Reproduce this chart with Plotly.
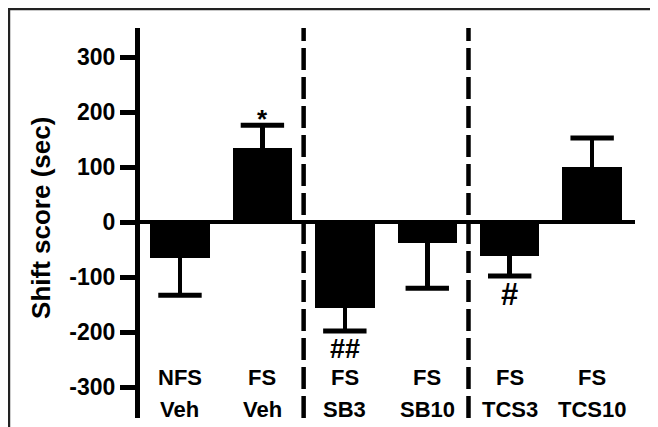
import plotly.graph_objects as go

groups_top = ["NFS", "FS", "FS", "FS", "FS", "FS"]
groups_bottom = ["Veh", "Veh", "SB3", "SB10", "TCS3", "TCS10"]
means = [-65, 134, -156, -38, -62, 100]
sems = [68, 42, 42, 82, 36, 53]
marks = ["", "*", "##", "", "#", ""]
y_ticks = [-300, -200, -100, 0, 100, 200, 300]
y_tick_text = ["-300", "-200", "-100", "0", "100", "200", "300"]
y_title = "Shift score (sec)"

xs = list(range(len(means)))
err_plus = [s if m > 0 else 0 for m, s in zip(means, sems)]
err_minus = [s if m < 0 else 0 for m, s in zip(means, sems)]
err_ends = [m + s if m > 0 else m - s for m, s in zip(means, sems)]

fig = go.Figure()
fig.add_trace(go.Bar(
    x=xs, y=means, width=0.72,
    marker=dict(color="black", line=dict(width=0)),
    error_y=dict(type="data", symmetric=False, array=err_plus, arrayminus=err_minus,
                 color="black", thickness=4.5, width=0),
    showlegend=False, hoverinfo="skip",
))
# error-bar caps
fig.add_trace(go.Scatter(
    x=xs, y=err_ends, mode="markers",
    marker=dict(symbol="line-ew", size=31, line=dict(color="black", width=5)),
    showlegend=False, hoverinfo="skip",
))

FONT = "Liberation Sans, Arial, sans-serif"
ann = []
for i in xs:
    ann.append(dict(x=i, y=-282, xref="x", yref="y", text="<b>%s</b>" % groups_top[i],
                    showarrow=False, font=dict(family=FONT, size=22, color="black")))
    ann.append(dict(x=i, y=-341, xref="x", yref="y", text="<b>%s</b>" % groups_bottom[i],
                    showarrow=False, font=dict(family=FONT, size=22, color="black")))
    if marks[i]:
        if means[i] > 0:
            ann.append(dict(x=i, y=err_ends[i], xref="x", yref="y", text="<b>%s</b>" % marks[i],
                            showarrow=False, yanchor="bottom", yshift=-11,
                            font=dict(family=FONT, size=26, color="black")))
        else:
            size = 27 if len(marks[i]) > 1 else 31
            ann.append(dict(x=i, y=err_ends[i], xref="x", yref="y", text="<b>%s</b>" % marks[i],
                            showarrow=False, yanchor="top", yshift=-1 if size == 27 else 1,
                            font=dict(family=FONT, size=size, color="black")))

# y-axis title
ann.append(dict(x=-0.200, y=0.513, xref="paper", yref="paper", text="<b>%s</b>" % y_title,
                textangle=-90, showarrow=False, xanchor="center", yanchor="middle",
                font=dict(family=FONT, size=26, color="black")))

shapes = []
for xd in [1.5, 3.5]:
    shapes.append(dict(type="line", xref="x", yref="paper", x0=xd, x1=xd, y0=0, y1=1,
                       line=dict(color="black", width=4.5, dash="22px,7px")))
# outer frame (page body adds an 8px offset)
shapes.append(dict(type="rect", xref="paper", yref="paper", x0=-0.2647, x1=1.2, y0=-0.2, y1=1.049,
                   line=dict(color="#222", width=2.5), layer="below"))

fig.update_layout(
    width=650, height=419,
    margin=dict(l=132, r=23, t=20, b=9),
    paper_bgcolor="white", plot_bgcolor="white",
    bargap=0,
    xaxis=dict(visible=False, range=[-0.485, 5.52], fixedrange=True),
    yaxis=dict(range=[-356, 353], tickvals=y_ticks, ticktext=y_tick_text,
               ticks="outside", ticklen=15, tickwidth=4.5,
               tickcolor="black", showline=True, linecolor="black", linewidth=5,
               showgrid=False, zeroline=True, zerolinecolor="black", zerolinewidth=4,
               tickfont=dict(family=FONT, size=23, color="black", weight="bold")),
    annotations=ann, shapes=shapes,
)
fig.write_html("out.html")
